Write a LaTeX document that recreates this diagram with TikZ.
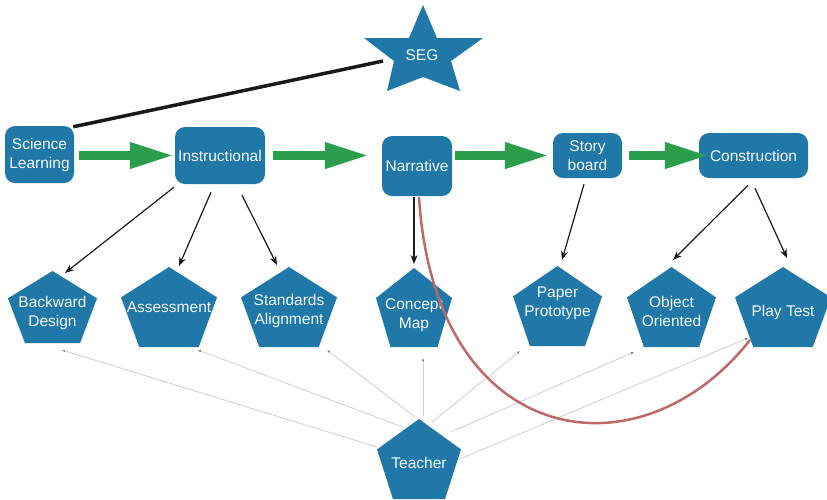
\documentclass[tikz,border=0pt]{standalone}
\usepackage{fontspec}
\setmainfont{Liberation Sans}
\usetikzlibrary{arrows.meta,calc}
\definecolor{segblue}{RGB}{31,120,168}
\definecolor{arrgreen}{RGB}{42,158,74}
\definecolor{curvered}{RGB}{190,104,104}
\definecolor{linegray}{RGB}{205,205,205}
\definecolor{tipgray}{RGB}{125,125,125}
\definecolor{txtwhite}{RGB}{245,248,250}
\definecolor{darkline}{RGB}{25,25,25}
\newcommand\pentnode[7]{%
  \fill[segblue] (#2,#3) -- ({#2+#4/2},{#3+0.38*#5}) -- ({#2+0.31*#4},{#3+#5}) -- ({#2-0.31*#4},{#3+#5}) -- ({#2-#4/2},{#3+0.38*#5}) -- cycle;
  \coordinate (#1-top) at (#2,#3);
  \node[lbl] (#1) at (#2,#6) {#7};
}
\begin{document}
\begin{tikzpicture}[x=1pt,y=-1pt,
  lbl/.style={text=txtwhite, align=center, font=\fontsize{15.5}{19}\selectfont, inner sep=0pt},
  box/.style={lbl, rounded corners=10pt, fill=segblue},
  flow/.style={arrgreen, line width=9.5pt, -{Triangle[length=45pt,width=24pt]}},
  link/.style={draw=darkline, line width=1.2pt, -{Stealth[length=9pt,width=7pt]}},
  tlink/.style={draw=linegray, line width=0.8pt, -{Latex[length=3pt,width=2.6pt,color=tipgray]}},
  relate/.style={draw=curvered, line width=2.5pt}
]
\useasboundingbox (0,0) rectangle (827,499);

% star
\fill[segblue] (423,5) -- (437,38) -- (483,38) -- (451,61) -- (460,91) -- (423,77) -- (387,91) -- (394,61) -- (364,38) -- (409,38) -- cycle;
\node[lbl] (seg) at (422,55) {SEG};
\coordinate (segleft) at (383,61);

% boxes
\node[box, minimum width=69pt, minimum height=57pt] (sci) at (39.5,154.5) {Science\\Learning};
\node[box, minimum width=90pt, minimum height=57pt] (instr) at (220,155.5) {Instructional};
\node[box, minimum width=70pt, minimum height=60pt] (narr) at (417,166) {Narrative};
\node[box, minimum width=69pt, minimum height=45pt] (sb) at (587.5,155.5) {Story\\board};
\node[box, minimum width=109pt, minimum height=45pt] (con) at (753.5,155.5) {Construction};

\draw[darkline, line width=3.5pt] ($(sci.north east)+(-1,1)$) -- (segleft);

% pentagons
\pentnode{bd}{52.5}{271}{89}{72}{313}{Backward\\Design}
\pentnode{as}{169}{267}{96}{80}{307}{Assessment}
\pentnode{sa}{289}{267}{96}{80}{311}{Standards\\Alignment}
\pentnode{cm}{414}{268}{76}{79}{315}{Concept\\Map}
\pentnode{pp}{557.5}{266}{89}{80}{303}{Paper\\Prototype}
\pentnode{oo}{671.5}{267}{89}{80}{311.5}{Object\\Oriented}
\pentnode{pt}{783}{267}{96}{80}{312}{Play Test}
\pentnode{te}{419}{419}{84}{80}{463}{Teacher}

% flow arrows
\draw[flow] ($(sci.east)+(5,1)$) -- (instr.west);
\draw[flow] ($(instr.east)+(8,0)$) -- ($(instr.east -| narr.west)+(-12,0)$);
\draw[flow] ($(narr.east |- sb.west)+(3,0)$) -- ($(sb.west)+(-3,0)$);
\draw[flow] ($(sb.east)+(7,0)$) -- ($(con.west)+(11,0)$);

% black links
\draw[link] ($(instr.south)+(-46,3)$) -- ($(bd-top)+(12.5,2)$);
\draw[link] ($(instr.south)+(-9,8)$) -- ($(as-top)+(10,-1)$);
\draw[link] ($(instr.south)+(22,11)$) -- ($(sa-top)+(-12,-2)$);
\draw[link] ($(narr.south)+(-3,1)$) -- ($(cm-top)+(0,-4)$);
\draw[link] ($(sb.south)+(-3.5,6)$) -- ($(pp-top)+(4.5,-6)$);
\draw[link] ($(con.south)+(-5.5,7)$) -- ($(oo-top)+(1.5,-7)$);
\draw[link] ($(con.south)+(1.5,10)$) -- ($(pt-top)+(4,-9)$);

% teacher links
\draw[tlink] ($(te-top)+(-42,28)$) -- ($(bd-top)+(9.5,79)$);
\draw[tlink] ($(te-top)+(-16,8)$) -- ($(as-top)+(29,83)$);
\draw[tlink] ($(te-top)+(-4,-2)$) -- ($(sa-top)+(38,83)$);
\draw[tlink] ($(te-top)+(4,-3)$) -- ($(cm-top)+(9,90)$);
\draw[tlink] ($(te-top)+(13,3)$) -- ($(pp-top)+(-37.5,85)$);
\draw[tlink] ($(te-top)+(32,13)$) -- ($(oo-top)+(-37.5,85)$);
\draw[tlink] ($(te-top)+(41,40)$) -- ($(pt-top)+(-35,71)$);

% red relation curve
\draw[relate] ($(narr.south)+(2,1)$) .. controls (435,450) and (640,480) .. ($(pt-top)+(-33,73)$);
\end{tikzpicture}
\end{document}
